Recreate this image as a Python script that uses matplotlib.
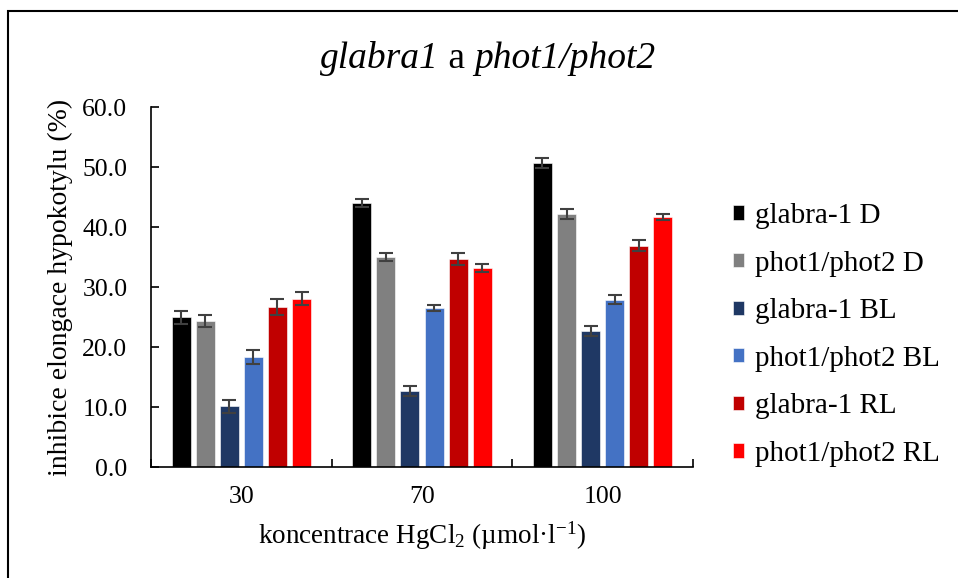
import matplotlib
matplotlib.use("Agg")
import matplotlib.pyplot as plt
import numpy as np
from matplotlib.patches import Rectangle
from matplotlib.offsetbox import TextArea, HPacker, AnchoredOffsetbox

plt.rcParams['font.family'] = ['Liberation Serif', 'DejaVu Serif']
plt.rcParams['mathtext.fontset'] = 'custom'
plt.rcParams['mathtext.rm'] = 'Liberation Serif'
plt.rcParams['mathtext.it'] = 'Liberation Serif:italic'

categories = ["30", "70", "100"]
series_names = ["glabra-1 D", "phot1/phot2 D", "glabra-1 BL",
                "phot1/phot2 BL", "glabra-1 RL", "phot1/phot2 RL"]
glabra_D = [25.0, 44.0, 50.7]
phot_D = [24.4, 35.0, 42.2]
glabra_BL = [10.1, 12.7, 22.7]
phot_BL = [18.3, 26.6, 27.9]
glabra_RL = [26.7, 34.7, 36.9]
phot_RL = [28.1, 33.2, 41.7]
err_glabra_D = [1.1, 0.7, 0.9]
err_phot_D = [1.0, 0.7, 0.9]
err_glabra_BL = [1.1, 0.85, 0.9]
err_phot_BL = [1.2, 0.5, 0.75]
err_glabra_RL = [1.4, 1.05, 0.9]
err_phot_RL = [1.1, 0.65, 0.45]

values = [glabra_D, phot_D, glabra_BL, phot_BL, glabra_RL, phot_RL]
errors = [err_glabra_D, err_phot_D, err_glabra_BL, err_phot_BL, err_glabra_RL, err_phot_RL]
colors = ["#000000", "#808080", "#1F3864", "#4472C4", "#C00000", "#FF0000"]

fig = plt.figure(figsize=(9.58, 5.78), dpi=100)
ax = fig.add_axes([151/958, 1-467/578, (693-151)/958, (467-107.3)/578])

x = np.arange(len(categories))
step = 0.1333
width = 0.105
for i, (vals, errs, c, name) in enumerate(zip(values, errors, colors, series_names)):
    pos = x + (i - 2.5) * step
    ax.bar(pos, vals, width=width, color=c, label=name, zorder=2,
           edgecolor='white', linewidth=0.4)
    ax.errorbar(pos, vals, yerr=errs, fmt='none', ecolor='#404040',
                elinewidth=1.5, capsize=5, capthick=1.5, zorder=3)

ax.set_xlim(-0.5, 2.5)
ax.set_ylim(0, 60)
ax.set_yticks(np.arange(0, 61, 10))
ax.set_yticklabels([f"{v:.1f}" for v in np.arange(0, 61, 10)])
ax.set_xticks(x)
ax.set_xticklabels(categories)
ax.set_xticks([-0.5, 0.5, 1.5, 2.5], minor=True)
ax.tick_params(axis='x', which='major', length=0, labelsize=18.5, pad=14)
ax.tick_params(axis='x', which='minor', direction='in', length=6, width=1.2)
ax.tick_params(axis='y', direction='in', length=6, width=1.2, labelsize=18.5, pad=17)
for s in ['top', 'right']:
    ax.spines[s].set_visible(False)
for s in ['left', 'bottom']:
    ax.spines[s].set_linewidth(1.2)

ax.set_ylabel("inhibice elongace hypokotylu (%)", fontsize=20, labelpad=7)
ax.set_xlabel(r"koncentrace HgCl$_2$ (µmol·l$^{\mathrm{-1}}$)", fontsize=19.5, labelpad=8)

# title with mixed italic / upright parts
tprops_it = dict(fontsize=27, style='italic')
tprops_rm = dict(fontsize=27)
title_box = HPacker(children=[TextArea("glabra1", textprops=tprops_it),
                              TextArea(" a ", textprops=tprops_rm),
                              TextArea("phot1/phot2", textprops=tprops_it)],
                    align="baseline", pad=0, sep=0)
anch = AnchoredOffsetbox(loc='center', child=title_box, pad=0, frameon=False,
                         bbox_to_anchor=(488/958, 1 - 58/578),
                         bbox_transform=fig.transFigure, borderpad=0)
fig.add_artist(anch)

leg = ax.legend(loc='upper left', bbox_to_anchor=(733/958, 1 - 203/578),
                bbox_transform=fig.transFigure, frameon=False, fontsize=21,
                handlelength=0.38, handleheight=0.38, handletextpad=0.36,
                labelspacing=0.74, borderaxespad=0, borderpad=0)

fig.patches.append(Rectangle((8/958, -0.05), 1.1, 1 - 11/578 + 0.05,
                             transform=fig.transFigure, fill=False,
                             edgecolor='black', linewidth=1.5))

fig.savefig("out.png", dpi=100)
